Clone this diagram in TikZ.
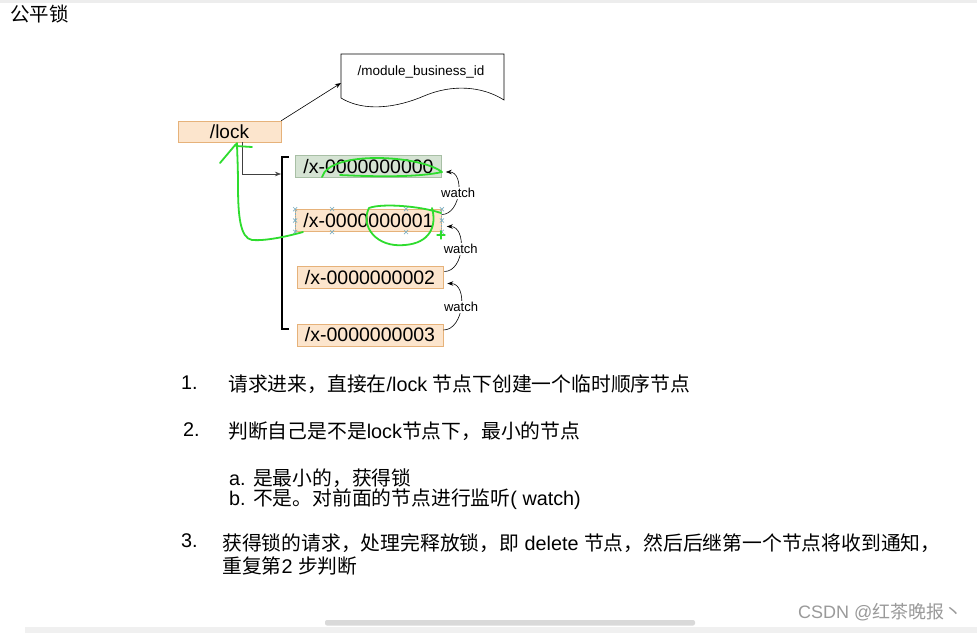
\documentclass[tikz,border=0pt]{standalone}
\usepackage{fontspec}
\setmainfont{Liberation Sans}
\newfontfamily\cjk{Noto Sans CJK SC}
\usetikzlibrary{arrows.meta}
\definecolor{orfill}{HTML}{FCE5CD}
\definecolor{ordraw}{HTML}{E6B27A}
\definecolor{grfill}{HTML}{D5E3D3}
\definecolor{grdraw}{HTML}{A8BFA5}
\definecolor{hand}{HTML}{2EDC2E}
\definecolor{handlecol}{HTML}{7FAFC0}
\definecolor{wm}{HTML}{9A9A9A}
\newcommand\fsz[1]{\fontsize{#1}{#1}\selectfont}
\tikzset{
  znode/.style={draw=ordraw, fill=orfill, line width=0.6pt, minimum width=146pt, minimum height=22pt, inner sep=0pt, font=\fsz{19.5}},
  znodeg/.style={znode, draw=grdraw, fill=grfill},
  lockbox/.style={znode, minimum width=103pt, minimum height=21pt, font=\fsz{19}},
  conn/.style={line width=0.6pt, -{Stealth[length=6pt,width=4.5pt]}},
  watcharrow/.style={line width=0.6pt, -{Stealth[length=6pt,width=4.5pt]}, looseness=1.15},
  watchlbl/.style={fill=white, inner sep=1pt, font=\fsz{13}},
  handline/.style={draw=hand, line width=1.8pt, line cap=round, line join=round},
  txt/.style={anchor=west, inner sep=0pt, font=\fsz{19.8}},
  hmark/.style={draw=handlecol, line width=0.7pt}
}
\begin{document}
\begin{tikzpicture}[x=1pt,y=-1pt]
\useasboundingbox (0,0) rectangle (977,633);
\fill[white] (0,0) rectangle (977,633);
% top thin band
\fill[black!7] (0,0) rectangle (977,2.5);
% bottom strip and scrollbar
\fill[black!6] (25,627) rectangle (977,633);
\fill[black!15, rounded corners=2pt] (325,620) rectangle (695,625.5);

% title
\node[txt, font=\fsz{19.5}] (title) at (10,14) {\cjk 公平锁};

% /lock and document
\node[lockbox] (lock) at (229.5,131.5) {/lock};
\draw[line width=0.6pt, fill=white] (341,54) -- (504,54) -- (504,100)
   .. controls (482,86) and (452,84) .. (424,96)
   .. controls (396,108) and (364,112) .. (341,98) -- cycle;
\node[inner sep=0pt, font=\fsz{13.5}] (doc) at (421,72) {/module\_business\_id};
\coordinate (docin) at (341,83);
\draw[conn] (lock.north east) -- (docin);

% bracket
\coordinate (brtop) at (282,157);
\coordinate (brbot) at (282,329);
\draw[line width=1.2pt] ([xshift=7pt]brtop) -- (brtop) -- (brbot) -- ([xshift=7pt]brbot);
\coordinate (brin) at (281,174);
\draw[line width=0.6pt, draw=black!75, -{Stealth[length=6pt,width=4.5pt]}] ([xshift=12.5pt]lock.south) |- (brin);

% sequence nodes
\node[znodeg] (n0) at (368.5,166.5) {/x-0000000000};
\node[znode]  (n1) at (368.5,220.5) {/x-0000000001};
\node[znode]  (n2) at (370,277.5) {/x-0000000002};
\node[znode]  (n3) at (370,335) {/x-0000000003};

% watch arrows
\draw[watcharrow] ([yshift=6pt]n1.east) to[out=0,in=0] node[watchlbl] {watch} ([xshift=4pt,yshift=-5.5pt]n0.east);
\draw[watcharrow] ([yshift=6pt,xshift=1pt]n2.east) to[out=0,in=0] node[watchlbl] {watch} ([xshift=5pt,yshift=-6pt]n1.east);
\draw[watcharrow] ([yshift=5pt]n3.east) to[out=0,in=0] node[watchlbl] {watch} ([xshift=4pt,yshift=-6pt]n2.east);

% selection handles on n1
\draw[hmark, densely dotted] (n1.north west) -- (n1.south west);
\draw[hmark, densely dotted] (n1.north east) -- (n1.south east);
\foreach \p in {n1.north west, n1.south west, n1.north east, n1.south east, n1.west, n1.east} {
  \draw[hmark] ([shift={(-2pt,-2pt)}]\p) -- ([shift={(2pt,2pt)}]\p)
               ([shift={(-2pt,2pt)}]\p) -- ([shift={(2pt,-2pt)}]\p);
}
\foreach \xx in {332,406} {
  \foreach \yy in {209,232} {
    \draw[hmark] (\xx-2,\yy-2) -- (\xx+2,\yy+2) (\xx-2,\yy+2) -- (\xx+2,\yy-2);
  }
}

% hand-drawn green annotations
\draw[handline] (322,177) .. controls (330,150) and (420,155) .. (442,172)
   .. controls (420,177) and (380,177) .. (340,175);
\draw[handline] (441,213) .. controls (420,206) and (382,203) .. (369,208)
   .. controls (360,226) and (376,248) .. (405,245)
   .. controls (430,243) and (437,226) .. (432,208);
\draw[handline, line width=1.2pt] (437,235) -- (445,235) (441,231) -- (441,239);
\draw[handline] (303,232) .. controls (285,237) and (265,241) .. (252,240)
   .. controls (240,238) and (238,215) .. (238,185)
   .. controls (238,165) and (237,150) .. (237,143);
\draw[handline] (220,163) -- (236,144);
\draw[handline] (236,146) -- (252,147);

% text block
\node[txt] (l1n) at (181,383) {1.};
\node[txt] (l1) at (228,384) {{\cjk 请求进来，直接在}/lock {\cjk 节点下创建一个临时顺序节点}};
\node[txt] (l2n) at (183,430) {2.};
\node[txt] (l2) at (228,431) {{\cjk 判断自己是不是}lock{\cjk 节点下，最小的节点}};
\node[txt] (la) at (229,478) {a. {\cjk 是最小的，获得锁}};
\node[txt] (lb) at (229,499) {b. {\cjk 不是。对前面的节点进行监听}( watch)};
\node[txt] (l3n) at (181,541) {3.};
\node[txt] (l3) at (222,543) {{\cjk 获得锁的请求，处理完释放锁，即} delete {\cjk 节点，然后后继第一个节点将收到通知，}};
\node[txt] (l3b) at (222,566) {{\cjk 重复第}2 {\cjk 步判断}};

% watermark
\node[txt, font=\fsz{18}, text=wm] (wmk) at (798,612) {CSDN @{\cjk 红茶晚报丶}};
\end{tikzpicture}
\end{document}
